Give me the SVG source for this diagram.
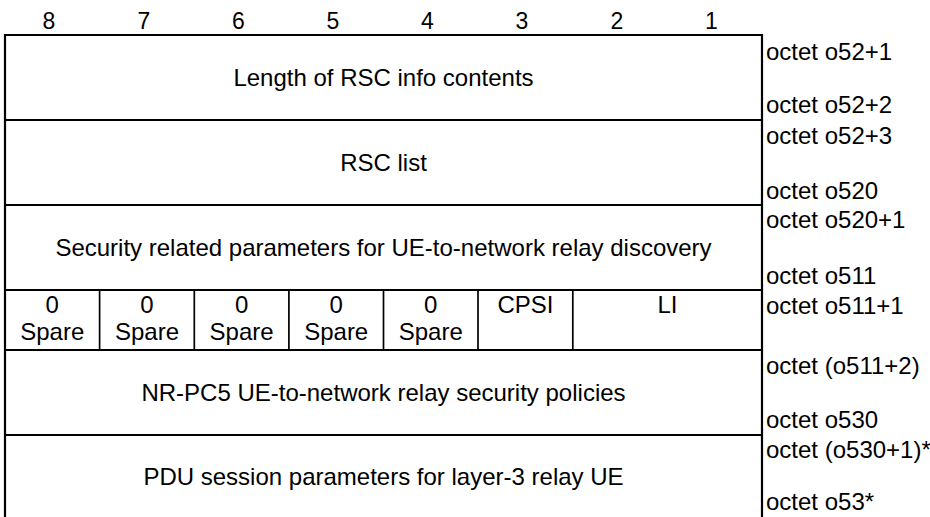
<svg xmlns="http://www.w3.org/2000/svg" width="930" height="517" viewBox="0 0 930 517">
<style>
text{font-family:"Liberation Sans",Arial,sans-serif;font-size:24px;fill:#000}
.c{text-anchor:middle}
.b{font-size:23px}
.ln{stroke:#000;stroke-width:2.2;fill:none}
.th{stroke:#000;stroke-width:1.7;fill:none}
</style>
<rect width="930" height="517" fill="#fff"/>
<g id="bits">
<text class="c b" x="49" y="29">8</text>
<text class="c b" x="144" y="29">7</text>
<text class="c b" x="238.5" y="29">6</text>
<text class="c b" x="333" y="29">5</text>
<text class="c b" x="427.5" y="29">4</text>
<text class="c b" x="522" y="29">3</text>
<text class="c b" x="617" y="29">2</text>
<text class="c b" x="711.5" y="29">1</text>
</g>
<g id="grid">
<path class="ln" d="M4 35H763M4 120H763M4 205H763M4 290H763M4 350H763M4 435H763"/>
<path class="ln" d="M5 34V517M762 34V517"/>
<path class="th" d="M99.6 290V350M194.3 290V350M288.9 290V350M383.5 290V350M478 290V350M572.8 290V350"/>
</g>
<g id="row-length">
<text class="c" x="383.5" y="86">Length of RSC info contents</text>
<text x="766" y="60">octet o52+1</text>
<text x="766" y="113">octet o52+2</text>
</g>
<g id="row-rsc-list">
<text class="c" x="383.5" y="171">RSC list</text>
<text x="766" y="144">octet o52+3</text>
<text x="766" y="199">octet o520</text>
</g>
<g id="row-security">
<text class="c" x="383.5" y="256">Security related parameters for UE-to-network relay discovery</text>
<text x="766" y="228">octet o520+1</text>
<text x="766" y="284">octet o511</text>
</g>
<g id="row-flags">
<text class="c" x="52.3" y="313">0</text><text class="c" x="52.3" y="340">Spare</text>
<text class="c" x="147" y="313">0</text><text class="c" x="147" y="340">Spare</text>
<text class="c" x="241.6" y="313">0</text><text class="c" x="241.6" y="340">Spare</text>
<text class="c" x="336.2" y="313">0</text><text class="c" x="336.2" y="340">Spare</text>
<text class="c" x="430.8" y="313">0</text><text class="c" x="430.8" y="340">Spare</text>
<text class="c" x="525.4" y="313">CPSI</text>
<text class="c" x="667.4" y="313">LI</text>
<text x="766" y="314">octet o511+1</text>
</g>
<g id="row-nr-pc5">
<text class="c" x="383.5" y="401">NR-PC5 UE-to-network relay security policies</text>
<text x="766" y="374">octet (o511+2)</text>
<text x="766" y="428">octet o530</text>
</g>
<g id="row-pdu">
<text class="c" x="383.5" y="485">PDU session parameters for layer-3 relay UE</text>
<text x="766" y="458">octet (o530+1)*</text>
<text x="766" y="510">octet o53*</text>
</g>
<g id="connectors"></g>
</svg>
